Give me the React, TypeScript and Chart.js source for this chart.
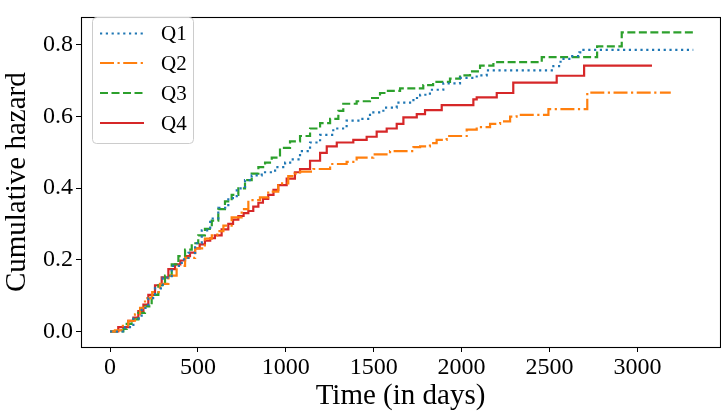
import { useEffect, useRef } from "react";
import { Chart, registerables } from "chart.js";

Chart.register(...registerables);

const seriesLabels = ["Q1", "Q2", "Q3", "Q4"];
const seriesColors = ["#1f77b4", "#ff7f0e", "#2ca02c", "#d62728"];
const seriesDashes = [[2.2, 3.6], [14, 3.5, 2.2, 3.5], [8, 3.5], []];

const q1Time = [0, 85, 133, 180, 218, 256, 300, 351, 408, 446, 484, 522, 570, 616, 673, 721, 768, 806, 863, 939, 996, 1033, 1081, 1138, 1195, 1270, 1346, 1422, 1479, 1555, 1631, 1726, 1764, 1820, 1896, 1991, 2086, 2143, 2522, 2563, 2620, 2670, 2693, 3318];
const q1Hazard = [0, 0.012, 0.036, 0.066, 0.093, 0.12, 0.15, 0.183, 0.201, 0.219, 0.246, 0.282, 0.315, 0.345, 0.372, 0.399, 0.422, 0.435, 0.444, 0.458, 0.471, 0.48, 0.503, 0.527, 0.548, 0.566, 0.588, 0.593, 0.611, 0.624, 0.638, 0.651, 0.66, 0.674, 0.692, 0.707, 0.714, 0.728, 0.74, 0.76, 0.768, 0.778, 0.785, 0.785];

const q2Time = [0, 28, 66, 104, 142, 171, 199, 240, 284, 332, 379, 427, 484, 540, 579, 610, 645, 692, 749, 787, 853, 900, 957, 1014, 1050, 1081, 1157, 1252, 1346, 1403, 1498, 1593, 1726, 1764, 1820, 1858, 1915, 2029, 2086, 2162, 2219, 2276, 2313, 2494, 2715, 3190];
const q2Hazard = [0, 0.003, 0.016, 0.03, 0.048, 0.066, 0.093, 0.11, 0.133, 0.156, 0.183, 0.205, 0.232, 0.259, 0.268, 0.28, 0.295, 0.318, 0.341, 0.366, 0.374, 0.39, 0.413, 0.433, 0.44, 0.446, 0.453, 0.467, 0.473, 0.485, 0.494, 0.503, 0.514, 0.516, 0.525, 0.534, 0.545, 0.563, 0.57, 0.579, 0.586, 0.599, 0.604, 0.62, 0.666, 0.666];

const q3Time = [0, 76, 95, 123, 161, 199, 237, 275, 313, 351, 389, 427, 465, 502, 540, 579, 616, 654, 692, 730, 768, 806, 844, 882, 920, 967, 1024, 1081, 1138, 1195, 1252, 1299, 1327, 1403, 1479, 1536, 1574, 1650, 1782, 1838, 1934, 1991, 2048, 2105, 2181, 2456, 2771, 2911, 3323];
const q3Hazard = [0, 0.007, 0.021, 0.034, 0.052, 0.07, 0.102, 0.129, 0.156, 0.187, 0.21, 0.228, 0.246, 0.268, 0.286, 0.309, 0.341, 0.363, 0.381, 0.399, 0.422, 0.44, 0.458, 0.471, 0.485, 0.512, 0.53, 0.545, 0.566, 0.581, 0.593, 0.615, 0.635, 0.642, 0.651, 0.665, 0.671, 0.678, 0.687, 0.696, 0.705, 0.714, 0.725, 0.741, 0.751, 0.765, 0.795, 0.834, 0.834];

const q4Time = [0, 47, 104, 133, 161, 190, 218, 256, 294, 332, 370, 400, 427, 455, 484, 510, 540, 570, 597, 635, 673, 700, 730, 760, 787, 815, 844, 870, 900, 930, 957, 1005, 1052, 1081, 1138, 1195, 1233, 1290, 1384, 1460, 1517, 1574, 1631, 1669, 1745, 1792, 1887, 2067, 2086, 2200, 2294, 2541, 2697, 3083];
const q4Hazard = [0, 0.012, 0.03, 0.039, 0.057, 0.075, 0.102, 0.129, 0.151, 0.174, 0.187, 0.198, 0.21, 0.22, 0.232, 0.243, 0.253, 0.26, 0.268, 0.285, 0.3, 0.312, 0.322, 0.33, 0.336, 0.348, 0.359, 0.37, 0.381, 0.395, 0.408, 0.426, 0.444, 0.453, 0.476, 0.498, 0.516, 0.527, 0.534, 0.543, 0.557, 0.566, 0.579, 0.597, 0.606, 0.617, 0.631, 0.647, 0.653, 0.665, 0.694, 0.713, 0.741, 0.741];

const seriesTimes = [q1Time, q2Time, q3Time, q4Time];
const seriesHazards = [q1Hazard, q2Hazard, q3Hazard, q4Hazard];

const xTickValues = [0, 500, 1000, 1500, 2000, 2500, 3000];
const yTickValues = [0, 0.2, 0.4, 0.6, 0.8];

const xTitle = "Time (in days)";
const yTitle = "Cumulative hazard";

const FONT = "'Liberation Serif', 'Times New Roman', serif";

const framePlugin = {
  id: "frame",
  afterDatasetsDraw(chart: any) {
    const { ctx, chartArea } = chart;
    ctx.save();
    ctx.strokeStyle = "#000";
    ctx.lineWidth = 1.1;
    ctx.strokeRect(
      Math.round(chartArea.left) + 0.5,
      Math.round(chartArea.top) + 0.5,
      Math.round(chartArea.right - chartArea.left),
      Math.round(chartArea.bottom - chartArea.top)
    );
    ctx.restore();
  },
};

const legendPlugin = {
  id: "innerLegend",
  afterDraw(chart: any) {
    const { ctx } = chart;
    const x0 = 92.5, y0 = 17.5, w = 101, h = 126, r = 4;
    ctx.save();
    ctx.beginPath();
    ctx.moveTo(x0 + r, y0);
    ctx.lineTo(x0 + w - r, y0);
    ctx.arcTo(x0 + w, y0, x0 + w, y0 + r, r);
    ctx.lineTo(x0 + w, y0 + h - r);
    ctx.arcTo(x0 + w, y0 + h, x0 + w - r, y0 + h, r);
    ctx.lineTo(x0 + r, y0 + h);
    ctx.arcTo(x0, y0 + h, x0, y0 + h - r, r);
    ctx.lineTo(x0, y0 + r);
    ctx.arcTo(x0, y0, x0 + r, y0, r);
    ctx.closePath();
    ctx.fillStyle = "rgba(255,255,255,0.8)";
    ctx.fill();
    ctx.strokeStyle = "#cccccc";
    ctx.lineWidth = 1;
    ctx.stroke();
    const rows = [33.5, 63, 93, 123];
    chart.data.datasets.forEach((ds: any, i: number) => {
      const y = rows[i];
      ctx.beginPath();
      ctx.setLineDash(ds.borderDash || []);
      ctx.lineCap = "butt";
      ctx.strokeStyle = ds.borderColor;
      ctx.lineWidth = ds.borderWidth;
      ctx.moveTo(100, y);
      ctx.lineTo(144, y);
      ctx.stroke();
      ctx.setLineDash([]);
      ctx.fillStyle = "#000";
      ctx.font = `21px ${FONT}`;
      ctx.textBaseline = "middle";
      ctx.textAlign = "left";
      ctx.fillText(ds.label, 161, y + 1);
    });
    ctx.restore();
  },
};

export default function App() {
  const ref = useRef<HTMLCanvasElement | null>(null);
  useEffect(() => {
    if (!ref.current) return;
    const datasets = seriesLabels.map((label, i) => ({
      label,
      data: seriesTimes[i].map((t, k) => ({ x: t, y: seriesHazards[i][k] })),
      borderColor: seriesColors[i],
      backgroundColor: seriesColors[i],
      borderWidth: 2.2,
      borderDash: seriesDashes[i],
      borderCapStyle: "butt" as const,
      stepped: true,
      pointRadius: 0,
      fill: false,
    }));
    const chart = new Chart(ref.current, {
      type: "line",
      data: { datasets },
      plugins: [framePlugin, legendPlugin],
      options: {
        animation: false,
        responsive: false,
        devicePixelRatio: window.devicePixelRatio || 1,
        layout: { padding: { top: 7, right: 1, left: 0, bottom: 0 } },
        plugins: { legend: { display: false }, tooltip: { enabled: false } },
        scales: {
          x: {
            type: "linear",
            min: -165,
            max: 3470,
            afterBuildTicks: (s: any) => {
              s.ticks = xTickValues.map((v) => ({ value: v }));
            },
            afterFit: (s: any) => {
              s.height = 67;
            },
            border: { display: false },
            grid: { display: true, drawOnChartArea: false, drawTicks: true, tickLength: 5, color: "#000", lineWidth: 1 },
            ticks: {
              color: "#000",
              font: { family: FONT, size: 24 },
              padding: 1,
              maxRotation: 0,
              autoSkip: false,
              callback: (v: any) => String(v),
            },
            title: {
              display: true,
              text: xTitle,
              color: "#000",
              font: { family: FONT, size: 29 },
              padding: { top: 0, bottom: 0 },
            },
          },
          y: {
            type: "linear",
            min: -0.0432,
            max: 0.8757,
            afterBuildTicks: (s: any) => {
              s.ticks = yTickValues.map((v) => ({ value: v }));
            },
            afterFit: (s: any) => {
              s.width = 81;
            },
            border: { display: false },
            grid: { display: true, drawOnChartArea: false, drawTicks: true, tickLength: 5, color: "#000", lineWidth: 1 },
            ticks: {
              color: "#000",
              font: { family: FONT, size: 24 },
              padding: 3,
              autoSkip: false,
              callback: (v: any) => Number(v).toFixed(1),
            },
            title: {
              display: true,
              text: yTitle,
              color: "#000",
              font: { family: FONT, size: 29 },
              padding: { top: 0, bottom: 0 },
            },
          },
        },
      },
    });
    return () => chart.destroy();
  }, []);
  return (
    <div style={{ position: "fixed", left: 0, top: 0, width: 721, height: 414, background: "#fff" }}>
      <canvas ref={ref} width={721} height={414} style={{ width: 721, height: 414 }} />
    </div>
  );
}
